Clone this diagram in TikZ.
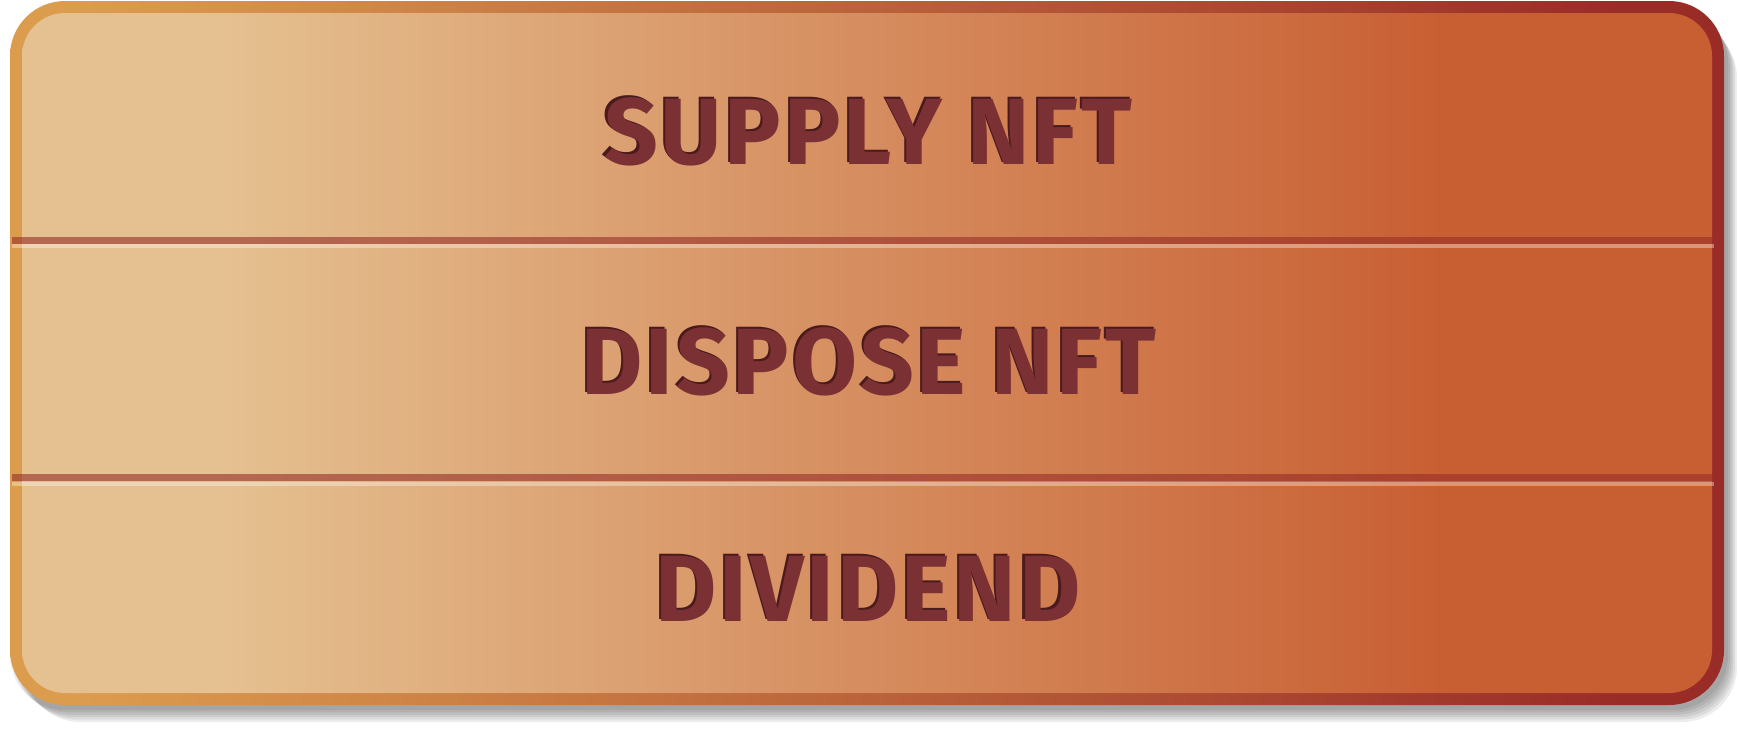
\documentclass[tikz,border=0pt]{standalone}
\usepackage{fontspec}
\newfontfamily\labelfont{Fira Sans}[LetterSpace=3]
\usepackage{xcolor}
\definecolor{cLight}{HTML}{E5C090}
\definecolor{cDeep}{HTML}{C85F33}
\definecolor{cRimLight}{HTML}{DC9C4E}
\definecolor{cRimDeep}{HTML}{9A2C28}
\definecolor{cInk}{HTML}{7B3034}
\definecolor{cInkShade}{HTML}{4A1A1D}
\definecolor{cGroove}{HTML}{962D28}
\usepackage{tikz}
\pgfdeclarehorizontalshading{panel-fill}{100bp}{color(0bp)=(cLight);
  color(31bp)=(cLight); color(67bp)=(cDeep); color(100bp)=(cDeep)}
\pgfdeclarehorizontalshading{panel-rim}{100bp}{color(0bp)=(cRimLight);
  color(27bp)=(cRimLight); color(72bp)=(cRimDeep); color(100bp)=(cRimDeep)}
\newcommand{\embossed}[1]{{\color{cInkShade}\rlap{#1}}%
  \kern0.22mm\raisebox{-0.22mm}{#1}}
\tikzset{
  panel-rim/.style={shading=panel-rim,rounded corners=5.5mm},
  panel-body/.style={shading=panel-fill,rounded corners=4.3mm},
  panel-shadow/.style={fill=black,fill opacity=0.07,rounded corners=5.5mm},
  groove-dark/.style={draw=cGroove,draw opacity=0.6,line width=0.7mm},
  groove-light/.style={draw=white,draw opacity=0.35,line width=0.4mm},
  panel-label/.style={inner sep=0pt,text=cInk,
    font=\labelfont\bfseries\fontsize{26.8pt}{30pt}\selectfont},
}
\begin{document}
\begin{tikzpicture}[x=0.1mm,y=-0.1mm]
  \useasboundingbox (0,0) rectangle (1740,729);
  % soft shadow
  \foreach \s in {0,3,...,15}
    \fill[panel-shadow] (10+\s,8+\s) rectangle (1728+0.6*\s,710+0.8*\s);
  % frame and face
  \shade[panel-rim]  (10,1) rectangle (1724,705);
  \shade[panel-body] (22,13) rectangle (1712,693);
  % grooves between the rows
  \coordinate (g1l) at (12,240);   \coordinate (g1r) at (1714,240);
  \coordinate (h1l) at (12,246);   \coordinate (h1r) at (1714,246);
  \coordinate (g2l) at (12,477.5); \coordinate (g2r) at (1714,477.5);
  \coordinate (h2l) at (12,483.5); \coordinate (h2r) at (1714,483.5);
  \draw[groove-dark]  (g1l) -- (g1r);
  \draw[groove-light] (h1l) -- (h1r);
  \draw[groove-dark]  (g2l) -- (g2r);
  \draw[groove-light] (h2l) -- (h2r);
  % row labels
  \node[panel-label] (supply)   at (867,131) {\embossed{SUPPLY NFT}};
  \node[panel-label] (dispose)  at (868,361) {\embossed{DISPOSE NFT}};
  \node[panel-label] (dividend) at (867,588) {\embossed{DIVIDEND}};
\end{tikzpicture}
\end{document}
